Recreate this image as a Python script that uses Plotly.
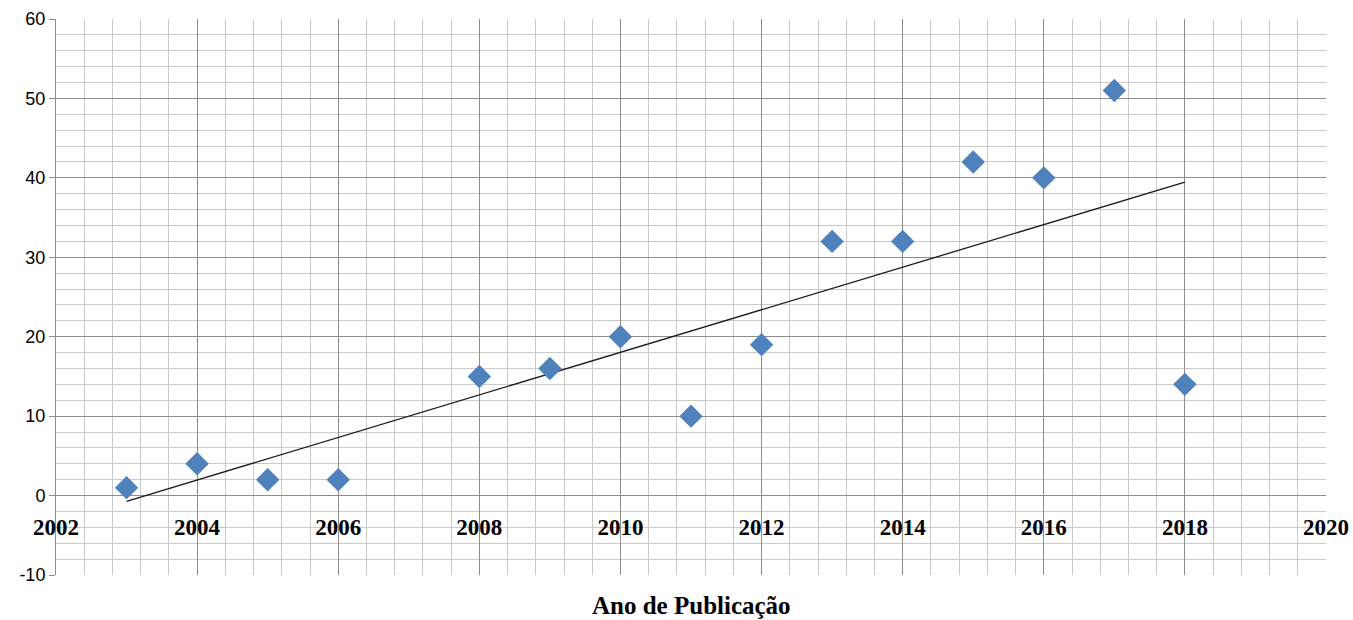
import numpy as np
import plotly.graph_objects as go

years = [2003, 2004, 2005, 2006, 2008, 2009, 2010, 2011, 2012, 2013, 2014, 2015, 2016, 2017, 2018]
counts = [1, 4, 2, 2, 15, 16, 20, 10, 19, 32, 32, 42, 40, 51, 14]
y_ticks = [-10, 0, 10, 20, 30, 40, 50, 60]
y_tick_labels = ["-10", "0", "10", "20", "30", "40", "50", "60"]
x_title = "Ano de Publicação"

slope, intercept = np.polyfit(years, counts, 1)
trend_x = [min(years), max(years)]
trend_y = [slope * v + intercept for v in trend_x]

fig = go.Figure()
fig.add_trace(go.Scatter(x=trend_x, y=trend_y, mode="lines",
                         line=dict(color="#1a1a1a", width=1.3), showlegend=False, hoverinfo="skip"))
fig.add_trace(go.Scatter(x=years, y=counts, mode="markers",
                         marker=dict(symbol="diamond", size=18, color="#4F81BD",
                                     line=dict(width=0)),
                         showlegend=False))

fig.update_layout(
    width=1353, height=620,
    margin=dict(l=56, r=27, t=19, b=45),
    paper_bgcolor="white", plot_bgcolor="white",
    xaxis=dict(range=[2002, 2020], tick0=2002, dtick=2, automargin=False,
               showgrid=True, gridcolor="#8c8c8c", gridwidth=1,
               minor=dict(dtick=0.4, tick0=2002, showgrid=True, gridcolor="#cacaca", gridwidth=1),
               zeroline=False, showline=False,
               anchor="free", position=1/7,
               ticks="", ticklabelstandoff=15,
               tickfont=dict(family="Liberation Serif", size=23, color="black", weight="bold")),
    yaxis=dict(range=[-10, 60], tickmode="array", tickvals=y_ticks, ticktext=y_tick_labels,
               automargin=False,
               showgrid=True, gridcolor="#8c8c8c", gridwidth=1,
               minor=dict(dtick=2, tick0=-10, showgrid=True, gridcolor="#cacaca", gridwidth=1),
               zeroline=True, zerolinecolor="#8c8c8c", zerolinewidth=1,
               showline=True, linecolor="#8c8c8c", linewidth=1,
               ticks="outside", ticklen=6, tickcolor="#8c8c8c",
               tickfont=dict(family="Liberation Sans", size=18, color="black")),
    annotations=[dict(text=x_title, xref="paper", yref="paper", x=0.5, y=0,
                      yshift=-30, showarrow=False, yanchor="middle",
                      font=dict(family="Liberation Serif", size=25, color="black", weight="bold"))],
)

fig.write_html("out.html", config={"displayModeBar": False},
               post_script="document.body.style.margin='0';document.body.style.padding='0';")
